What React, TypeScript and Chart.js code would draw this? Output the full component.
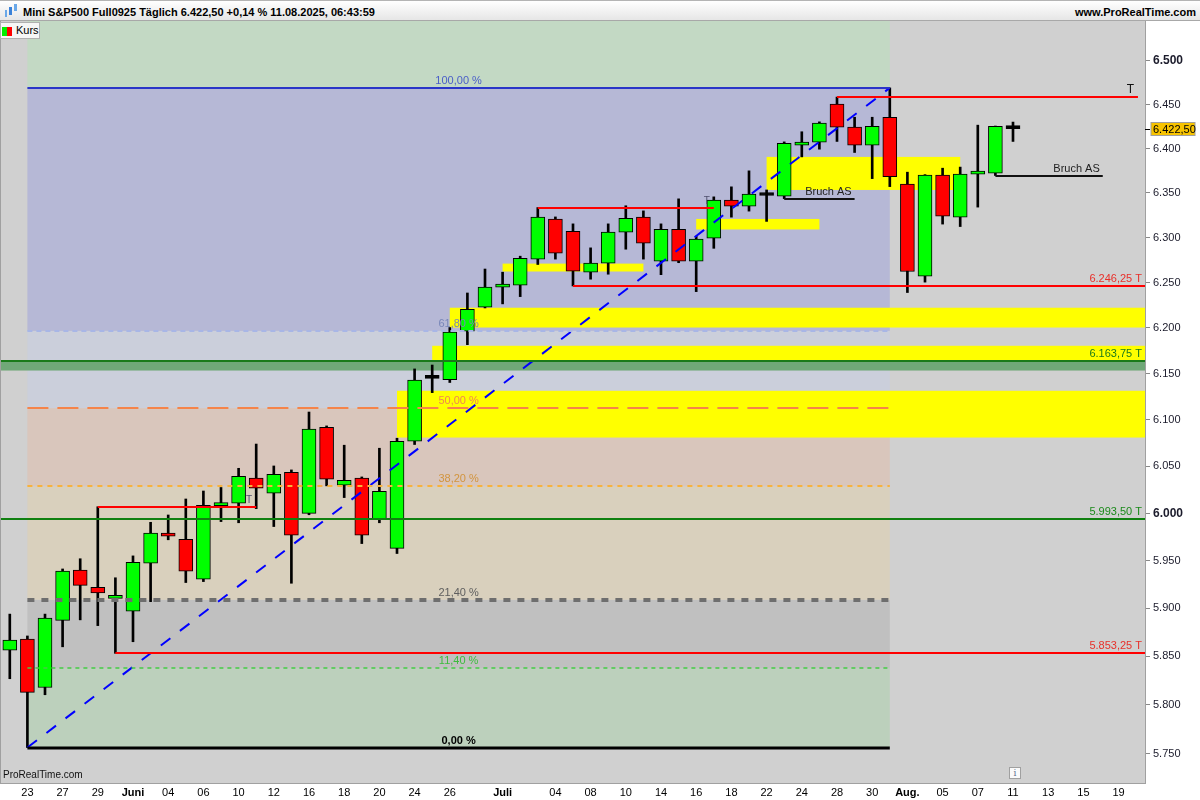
import React, { useEffect, useRef } from "react";
import { Chart, registerables } from "chart.js";

Chart.register(...registerables);

// ---------- data ----------
const dates = [
  "2025-05-22","2025-05-23","2025-05-26","2025-05-27","2025-05-28","2025-05-29","2025-05-30",
  "2025-06-02","2025-06-03","2025-06-04","2025-06-05","2025-06-06",
  "2025-06-09","2025-06-10","2025-06-11","2025-06-12","2025-06-13",
  "2025-06-16","2025-06-17","2025-06-18","2025-06-19","2025-06-20",
  "2025-06-23","2025-06-24","2025-06-25","2025-06-26","2025-06-27",
  "2025-06-30","2025-07-01","2025-07-02","2025-07-03","2025-07-04",
  "2025-07-07","2025-07-08","2025-07-09","2025-07-10","2025-07-11",
  "2025-07-14","2025-07-15","2025-07-16","2025-07-17","2025-07-18",
  "2025-07-21","2025-07-22","2025-07-23","2025-07-24","2025-07-25",
  "2025-07-28","2025-07-29","2025-07-30","2025-07-31","2025-08-01",
  "2025-08-04","2025-08-05","2025-08-06","2025-08-07","2025-08-08",
  "2025-08-11","2025-08-12","2025-08-13","2025-08-14","2025-08-15",
  "2025-08-18","2025-08-19","2025-08-20",
];

const tickLabels = [
  "", "23", "", "27", "", "29", "",
  "Juni", "", "04", "", "06",
  "", "10", "", "12", "",
  "16", "", "18", "", "20",
  "", "24", "", "26", "",
  "", "Juli", "", "", "04",
  "", "08", "", "10", "",
  "14", "", "16", "", "18",
  "", "22", "", "24", "",
  "28", "", "30", "", "Aug.",
  "", "05", "", "07", "",
  "11", "", "13", "", "15",
  "", "19", "",
];
const monthLabels = ["Juni", "Juli", "Aug."];

const opens = [
  5856.5, 5868, 5818, 5887.5, 5940, 5922, 5910.5, 5897, 5947.25, 5979,
  5972.5, 5930.5, 6008.25, 6010.75, 6037.5, 6021.5, 6043.75, 6000, 6092, 6030,
  6037.5, 5993.25, 5963, 6077, 6145, 6143.5, 6196.5, 6222.75, 6245, 6247,
  6276, 6320.5, 6307, 6261.5, 6271.5, 6306, 6322.75, 6273.75, 6309.25, 6273.75,
  6299.25, 6341.75, 6335, 6347, 6346.25, 6403.75, 6407.25, 6450.5, 6424.25, 6403.75,
  6435.5, 6359.75, 6257, 6370, 6322.75, 6371, 6372.25, 6422.5,
];
const highs = [
  5894, 5871.25, 5894, 5941.25, 5952, 6007, 5932, 5955, 5990.5, 5998.25,
  6015.25, 6023.75, 6027.5, 6048, 6074, 6050.5, 6046.25, 6108.5, 6093.5, 6072.75,
  6038.75, 6069.5, 6080.25, 6155.25, 6159.5, 6200.5, 6238.5, 6265, 6261.5, 6279.25,
  6333.5, 6323, 6315.25, 6288.5, 6315.25, 6335.5, 6329.75, 6315.25, 6343.25, 6301.5,
  6345.5, 6356.75, 6374.75, 6353.25, 6407.5, 6419, 6430.25, 6458.5, 6435.5, 6435.5,
  6469, 6373.25, 6370.5, 6377.75, 6379, 6426.5, 6425.5, 6430,
];
const lows = [
  5827, 5756.5, 5810.5, 5860, 5888, 5882, 5853.25, 5865.25, 5907, 5972,
  5927, 5928, 5991.25, 5990, 6005, 5986, 5926.25, 5998.5, 6029.25, 6016.75,
  5968, 5990, 5957.5, 6073.5, 6129.5, 6140.5, 6181.75, 6222, 6226.5, 6234.5,
  6270, 6276, 6246.25, 6253.75, 6259.25, 6287, 6276, 6258.75, 6272, 6240,
  6288, 6322.75, 6329.5, 6318, 6343.5, 6390.5, 6399.25, 6408, 6395.5, 6366,
  6357, 6239, 6250.5, 6315, 6312.25, 6334, 6369.5, 6408,
];
const closes = [
  5867, 5813, 5889.75, 5939, 5924, 5916, 5912.5, 5948.25, 5979, 5975.75,
  5939, 6008.5, 6010.75, 6039.5, 6026.75, 6041.5, 5976.75, 6090, 6036.25, 6035.25,
  5976.75, 6023.5, 6077, 6143, 6145, 6195.5, 6220.5, 6245, 6248.25, 6277,
  6322.75, 6282.5, 6262.5, 6271.5, 6306, 6321.5, 6293.75, 6309.25, 6273.75, 6298.25,
  6341.75, 6335, 6348.5, 6347, 6406, 6406, 6428.75, 6424.25, 6403.75, 6425.25,
  6368.25, 6262.25, 6370, 6323.75, 6371, 6373.25, 6425.25, 6422.5,
];

const yTicks = [5750, 5800, 5850, 5900, 5950, 6000, 6050, 6100, 6150, 6200, 6250, 6300, 6350, 6400, 6450, 6500];
const yMin = 5720.5;
const yMax = 6546;
const lastPrice = 6422.5;
const lastPriceText = "6.422,50";

// Fibonacci retracement
const fibLow = 5756.5;
const fibHigh = 6469;
const fibStartIdx = 1;
const fibEndIdx = 50;
const fibRatios = [0, 0.114, 0.214, 0.382, 0.5, 0.618, 1];
const fibTexts = ["0,00 %", "11,40 %", "21,40 %", "38,20 %", "50,00 %", "61,80 %", "100,00 %"];

// horizontal levels
const levelPrices = [6458.5, 6246.25, 6163.75, 5993.5, 5853.25, 6007, 6333.5, 6343.5, 6369.5];
const levelFrom = [47, 32, -0.5, -0.5, 6, 5, 30, 44, 56];
const levelTo = [64.1, 64.5, 64.5, 64.5, 64.5, 14, 40, 48, 62.1];
const levelTexts = ["T", "6.246,25 T", "6.163,75 T", "5.993,50 T", "5.853,25 T", "T", "T", "Bruch AS", "Bruch AS"];

// yellow zones
const zoneFrom = [43, 39, 28, 25, 24, 22];
const zoneTo = [54, 46, 36, 64.5, 64.5, 64.5];
const zoneLow = [6353.25, 6309, 6262.25, 6200.5, 6163.75, 6081];
const zoneHigh = [6390.5, 6320.75, 6271, 6222.25, 6180.5, 6131.5];

// green band under 6163,75
const bandLow = 6153.5;
const bandHigh = 6163.75;

// trend line
const trendIdx = [1, 50];
const trendPrices = [5756.5, 6469];

// ---------- styles ----------
const FONT = "'Liberation Sans', Arial, Helvetica, sans-serif";
const bgGray = "#d0d0d0";
const fibTopColor = "#c3d9c4";
const fibBandColors = ["#bcd0bc", "#c0c0c0", "#d9d0bd", "#d9c6bc", "#cbcfdb", "#b6b8d6"];
const fibLineStyles = [
  { color: "#000000", width: 3, dash: [] as number[], text: "#000000", bold: true },
  { color: "#44cc44", width: 1.5, dash: [4, 4], text: "#3cbc3c", bold: false },
  { color: "#6e6e6e", width: 4, dash: [7, 7], text: "#5e5e5e", bold: false },
  { color: "#f8b23c", width: 2, dash: [5, 5], text: "#d2943e", bold: false },
  { color: "#f5844a", width: 2, dash: [21, 9], text: "#f0884e", bold: false },
  { color: "#a8b6e6", width: 2, dash: [5, 4], text: "#7886b8", bold: false },
  { color: "#2a36c8", width: 2, dash: [] as number[], text: "#4a5ec8", bold: false },
];
const levelStyles = [
  { color: "#ff0000", text: "#111111", size: 12, right: 4 },
  { color: "#ff0000", text: "#e8302a", size: 11, right: 3 },
  { color: "#1a7a1a", text: "#1a7a1a", size: 11, right: 3 },
  { color: "#108010", text: "#1a8a1a", size: 11, right: 3 },
  { color: "#ff0000", text: "#e8302a", size: 11, right: 3 },
  { color: "#ff0000", text: "#50506e", size: 10, right: 4 },
  { color: "#ff0000", text: "#50506e", size: 10, right: 4 },
  { color: "#111111", text: "#222222", size: 11, right: 3 },
  { color: "#111111", text: "#222222", size: 11, right: 3 },
];

function candleColor(i: number) {
  if (closes[i] > opens[i]) return "#00ff00";
  if (closes[i] < opens[i]) return "#ff0000";
  return "#000000";
}

function fmtThousands(v: number) {
  const r = Math.round(v);
  const th = Math.floor(r / 1000);
  const rest = String(r % 1000).padStart(3, "0");
  return th + "." + rest;
}

const backgroundPlugin = {
  id: "prtBackground",
  beforeDatasetsDraw(chart: any) {
    const { ctx, chartArea: a, scales } = chart;
    const x = scales.x;
    const y = scales.y;
    ctx.save();
    ctx.beginPath();
    ctx.rect(a.left, a.top, a.right - a.left, a.bottom - a.top);
    ctx.clip();
    ctx.fillStyle = bgGray;
    ctx.fillRect(a.left, a.top, a.right - a.left, a.bottom - a.top);

    const fx0 = x.getPixelForValue(fibStartIdx);
    const fx1 = x.getPixelForValue(fibEndIdx);
    const fibPrice = (r: number) => fibLow + (fibHigh - fibLow) * r;
    ctx.fillStyle = fibTopColor;
    ctx.fillRect(fx0, a.top, fx1 - fx0, y.getPixelForValue(fibHigh) - a.top);
    for (let k = 0; k < fibRatios.length - 1; k++) {
      const yTop = y.getPixelForValue(fibPrice(fibRatios[k + 1]));
      const yBot = y.getPixelForValue(fibPrice(fibRatios[k]));
      ctx.fillStyle = fibBandColors[k];
      ctx.fillRect(fx0, yTop, fx1 - fx0, yBot - yTop);
    }

    ctx.fillStyle = "#ffff00";
    for (let k = 0; k < zoneFrom.length; k++) {
      const x0 = x.getPixelForValue(zoneFrom[k]);
      const x1 = x.getPixelForValue(zoneTo[k]);
      const y0 = y.getPixelForValue(zoneHigh[k]);
      const y1 = y.getPixelForValue(zoneLow[k]);
      ctx.fillRect(x0, y0, x1 - x0, y1 - y0);
    }

    const by0 = y.getPixelForValue(bandHigh);
    const by1 = y.getPixelForValue(bandLow);
    ctx.fillStyle = "#70a878";
    ctx.fillRect(a.left, by0, a.right - a.left, by1 - by0);
    ctx.restore();
  },
  afterDatasetsDraw(chart: any) {
    const { ctx, chartArea: a, scales } = chart;
    const x = scales.x;
    const y = scales.y;
    ctx.save();
    ctx.beginPath();
    ctx.rect(a.left, a.top, a.right - a.left, a.bottom - a.top);
    ctx.clip();

    // fib lines
    const fx0 = x.getPixelForValue(fibStartIdx);
    const fx1 = x.getPixelForValue(fibEndIdx);
    const fxc = (fx0 + fx1) / 2;
    for (let k = 0; k < fibRatios.length; k++) {
      const st = fibLineStyles[k];
      const py = Math.round(y.getPixelForValue(fibLow + (fibHigh - fibLow) * fibRatios[k]));
      ctx.strokeStyle = st.color;
      ctx.lineWidth = st.width;
      ctx.setLineDash(st.dash);
      ctx.beginPath();
      ctx.moveTo(fx0, py);
      ctx.lineTo(fx1, py);
      ctx.stroke();
      ctx.setLineDash([]);
      ctx.fillStyle = st.text;
      ctx.font = (st.bold ? "bold " : "") + "11px " + FONT;
      ctx.textAlign = "center";
      ctx.textBaseline = "alphabetic";
      ctx.fillText(fibTexts[k], fxc, py - 4);
    }

    // horizontal levels
    for (let k = 0; k < levelPrices.length; k++) {
      const st = levelStyles[k];
      const py = Math.round(y.getPixelForValue(levelPrices[k]));
      const x0 = x.getPixelForValue(levelFrom[k]);
      const x1 = x.getPixelForValue(levelTo[k]);
      ctx.strokeStyle = st.color;
      ctx.lineWidth = 2;
      ctx.beginPath();
      ctx.moveTo(x0, py);
      ctx.lineTo(x1, py);
      ctx.stroke();
      ctx.fillStyle = st.text;
      ctx.font = st.size + "px " + FONT;
      ctx.textAlign = "right";
      ctx.textBaseline = "alphabetic";
      ctx.fillText(levelTexts[k], x1 - st.right, py - 4);
    }
    ctx.restore();
  },
  afterDraw(chart: any) {
    const { ctx, chartArea: a, scales } = chart;
    const y = scales.y;
    ctx.save();
    ctx.strokeStyle = "#a0a0a0";
    ctx.lineWidth = 1;
    ctx.strokeRect(a.left - 0.5, a.top - 0.5, a.right - a.left + 1, a.bottom - a.top + 1);

    const py = Math.round(y.getPixelForValue(lastPrice)) + 0.5;
    ctx.strokeStyle = "#000";
    ctx.beginPath();
    ctx.moveTo(a.right, py);
    ctx.lineTo(a.right + 5, py);
    ctx.stroke();
    ctx.fillStyle = "#f7c300";
    ctx.fillRect(a.right + 6, py - 7, 44, 13);
    ctx.strokeStyle = "#a0a0a0";
    ctx.strokeRect(a.right + 6, py - 7, 44, 13);
    ctx.fillStyle = "#000";
    ctx.font = "11px " + FONT;
    ctx.textAlign = "left";
    ctx.textBaseline = "middle";
    ctx.fillText(lastPriceText, a.right + 8, py);
    ctx.restore();
  },
};

export default function App() {
  const canvasRef = useRef<HTMLCanvasElement | null>(null);

  useEffect(() => {
    const canvas = canvasRef.current;
    if (!canvas) return;
    const bodyColors = opens.map((_, i) => candleColor(i));
    const chart = new Chart(canvas, {
      type: "bar",
      data: {
        labels: dates,
        datasets: [
          {
            type: "line",
            label: "Trend",
            data: trendIdx.map((idx, k) => ({ x: dates[idx], y: trendPrices[k] })),
            borderColor: "#0000ff",
            borderWidth: 2,
            borderDash: [12, 12],
            pointRadius: 0,
            fill: false,
          } as any,
          {
            type: "bar",
            label: "Body",
            data: opens.map((o, i) => [o, closes[i]]),
            backgroundColor: bodyColors,
            borderColor: "#000000",
            borderWidth: 1,
            borderSkipped: false,
            barThickness: 14,
            minBarLength: 3,
            grouped: false,
          } as any,
          {
            type: "bar",
            label: "Wick",
            data: lows.map((l, i) => [l, highs[i]]),
            backgroundColor: "#000000",
            borderWidth: 0,
            barThickness: 2,
            grouped: false,
          } as any,
        ],
      },
      options: {
        animation: false,
        responsive: false,
        events: [],
        layout: { padding: { top: 21, left: 1, right: 0, bottom: 0 } },
        plugins: { legend: { display: false }, tooltip: { enabled: false } },
        scales: {
          x: {
            type: "category",
            offset: true,
            grid: { display: false, drawTicks: false },
            border: { display: true, color: "#a0a0a0" },
            afterFit: (s: any) => {
              s.height = 17;
            },
            ticks: {
              autoSkip: false,
              maxRotation: 0,
              minRotation: 0,
              padding: 3,
              color: "#000000",
              font: (c: any) => ({
                family: FONT,
                size: 11,
                weight: c.tick && monthLabels.includes(tickLabels[c.index]) ? "bold" : "normal",
              }),
              callback: (_v: any, idx: number) => tickLabels[idx] || "",
            },
          },
          y: {
            type: "logarithmic",
            position: "right",
            min: yMin,
            max: yMax,
            bounds: "data",
            grid: { drawOnChartArea: false, drawTicks: true, tickLength: 5, color: "#888888" },
            border: { display: true, color: "#a0a0a0" },
            afterFit: (s: any) => {
              s.width = 55;
            },
            afterBuildTicks: (s: any) => {
              s.ticks = yTicks.map((v) => ({ value: v }));
            },
            ticks: {
              autoSkip: false,
              padding: 3,
              color: "#1b1b2b",
              font: (c: any) => {
                const big = c.tick && c.tick.value % 500 === 0;
                return { family: FONT, size: big ? 12 : 11, weight: big ? "bold" : "normal" };
              },
              callback: (v: any) => fmtThousands(Number(v)),
            },
          },
        },
      },
      plugins: [backgroundPlugin],
    } as any);
    return () => chart.destroy();
  }, []);

  return (
    <div
      style={{
        position: "absolute",
        left: 0,
        top: 0,
        width: 1200,
        height: 800,
        overflow: "hidden",
        background: "#ffffff",
        fontFamily: FONT,
      }}
    >
      <canvas ref={canvasRef} width={1200} height={800} style={{ position: "absolute", left: 0, top: 0 }} />
      <div
        style={{
          position: "absolute",
          left: 0,
          top: 0,
          width: 1200,
          height: 21,
          boxSizing: "border-box",
          background: "linear-gradient(#ffffff, #e6e6e6)",
          borderTop: "1px solid #b4b4b4",
          borderBottom: "1px solid #a8a8a8",
        }}
      >
        <div style={{ position: "absolute", left: 5, top: 9, width: 2, height: 7, background: "#6aa8e8" }} />
        <div style={{ position: "absolute", left: 9, top: 6, width: 3, height: 8, background: "#3b82d8" }} />
        <div style={{ position: "absolute", left: 14, top: 3, width: 3, height: 7, background: "#6aa8e8" }} />
        <span
          style={{
            position: "absolute",
            left: 23,
            top: 5,
            fontSize: 11,
            fontWeight: "bold",
            color: "#000",
            whiteSpace: "nowrap",
          }}
        >
          Mini S&amp;P500 Full0925 Täglich 6.422,50 +0,14 % 11.08.2025, 06:43:59
        </span>
        <span
          style={{
            position: "absolute",
            right: 4,
            top: 5,
            fontSize: 11,
            fontWeight: "bold",
            color: "#000",
            whiteSpace: "nowrap",
          }}
        >
          www.ProRealTime.com
        </span>
      </div>
      <div
        style={{
          position: "absolute",
          left: 0,
          top: 22,
          width: 40,
          height: 17,
          boxSizing: "border-box",
          background: "#f6f6f6",
          border: "1px solid #b0b0b0",
        }}
      >
        <div style={{ position: "absolute", left: 1, top: 4, width: 5, height: 9, background: "#00ee00" }} />
        <div style={{ position: "absolute", left: 6, top: 4, width: 5, height: 9, background: "#ff0000" }} />
        <span style={{ position: "absolute", left: 15, top: 1, fontSize: 11, color: "#000" }}>Kurs</span>
      </div>
      <span style={{ position: "absolute", left: 3, top: 769, fontSize: 10, color: "#111", whiteSpace: "nowrap" }}>
        ProRealTime.com
      </span>
      <div
        style={{
          position: "absolute",
          left: 1009,
          top: 767,
          width: 12,
          height: 12,
          boxSizing: "border-box",
          background: "#fafafa",
          border: "1px solid #a0a0a0",
          fontSize: 9,
          lineHeight: "10px",
          textAlign: "center",
          color: "#607090",
          fontFamily: "'DejaVu Serif', serif",
        }}
      >
        i
      </div>
    </div>
  );
}
